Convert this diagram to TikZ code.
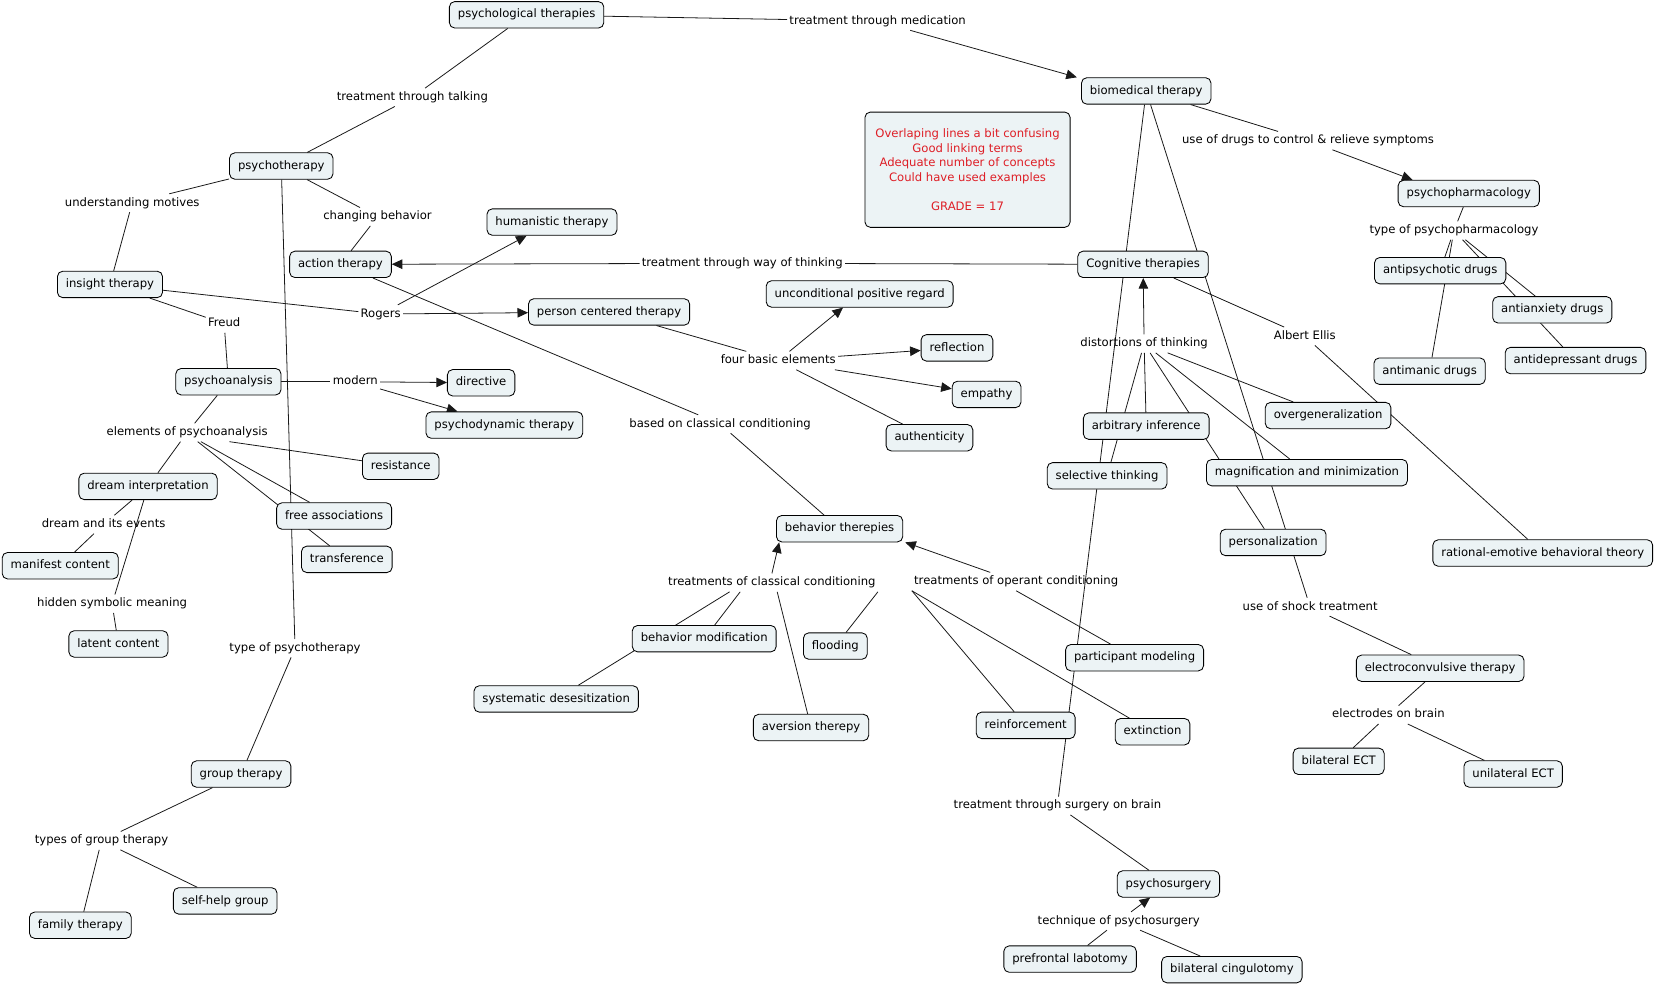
\documentclass[tikz,border=0pt]{standalone}
\usepackage{fontspec}
\setmainfont{DejaVu Sans}
\usetikzlibrary{arrows.meta,backgrounds}
\definecolor{cfill}{RGB}{236,243,245}
\definecolor{cred}{RGB}{222,30,38}
\newcommand\cmfont{\fontsize{11}{13.8}\selectfont}
\tikzset{
  concept/.style={draw=black, line width=0.8pt, fill=cfill, rounded corners=5pt,
    inner xsep=8pt, inner ysep=0pt, minimum height=25pt, font=\cmfont,
    text height=8.5pt, text depth=2.5pt},
  lbl/.style={inner xsep=2pt, inner ysep=3pt, font=\cmfont, text height=8.5pt, text depth=2.5pt},
  con/.style={draw=black!90, line width=0.75pt},
  arr/.style={con, -{Triangle[length=10pt,width=9pt]}},
  remark/.style={draw=black, line width=0.8pt, fill=cfill, rounded corners=5pt,
    minimum width=194pt, minimum height=109pt, align=center, text=cred, font=\cmfont}
}
\begin{document}
\begin{tikzpicture}[x=1pt,y=1pt]
\useasboundingbox (0,0) rectangle (1568,-934.4);
% concepts
\node[concept] (pt) at (498,-14) {psychological therapies};
\node[concept] (bio) at (1084,-86) {biomedical therapy};
\node[concept] (psy) at (266,-157) {psychotherapy};
\node[concept] (hum) at (522,-210) {humanistic therapy};
\node[concept] (act) at (322,-250) {action therapy};
\node[concept] (ins) at (104,-269) {insight therapy};
\node[concept] (cog) at (1081,-250) {Cognitive therapies};
\node[concept] (pph) at (1389,-183) {psychopharmacology};
\node[concept] (aps) at (1362,-256) {antipsychotic drugs};
\node[concept] (anx) at (1468,-293) {antianxiety drugs};
\node[concept] (adp) at (1490,-341) {antidepressant drugs};
\node[concept] (amn) at (1352,-351) {antimanic drugs};
\node[concept] (upr) at (813,-278) {unconditional positive regard};
\node[concept] (pct) at (576,-295) {person centered therapy};
\node[concept] (rfl) at (905,-329) {reflection};
\node[concept] (emp) at (933,-373) {empathy};
\node[concept] (aut) at (879,-414) {authenticity};
\node[concept] (pan) at (216,-361) {psychoanalysis};
\node[concept] (dir) at (455,-362) {directive};
\node[concept] (pdt) at (477,-402) {psychodynamic therapy};
\node[concept] (res) at (379,-441) {resistance};
\node[concept] (dri) at (140,-460) {dream interpretation};
\node[concept] (fas) at (316,-488) {free associations};
\node[concept] (trf) at (328,-529) {transference};
\node[concept] (mfc) at (57,-535) {manifest content};
\node[concept] (ltc) at (112,-609) {latent content};
\node[concept] (grp) at (228,-732) {group therapy};
\node[concept] (fam) at (76,-875) {family therapy};
\node[concept] (shg) at (213,-852) {self-help group};
\node[concept] (beh) at (794,-500) {behavior therepies};
\node[concept] (bmo) at (666,-604) {behavior modification};
\node[concept] (fld) at (790,-611) {flooding};
\node[concept] (sds) at (526,-661) {systematic desesitization};
\node[concept] (avt) at (767,-688) {aversion therepy};
\node[concept] (pmo) at (1073,-622) {participant modeling};
\node[concept] (rei) at (970,-686) {reinforcement};
\node[concept] (ext) at (1090,-692) {extinction};
\node[concept] (arb) at (1084,-403) {arbitrary inference};
\node[concept] (sel) at (1047,-450) {selective thinking};
\node[concept] (ovg) at (1256,-393) {overgeneralization};
\node[concept] (mag) at (1236,-447) {magnification and minimization};
\node[concept] (per) at (1204,-513) {personalization};
\node[concept] (reb) at (1459,-523) {rational-emotive behavioral theory};
\node[concept] (ect) at (1362,-632) {electroconvulsive therapy};
\node[concept] (bect) at (1266,-720) {bilateral ECT};
\node[concept] (uect) at (1431,-732) {unilateral ECT};
\node[concept] (psg) at (1105,-836) {psychosurgery};
\node[concept] (pfl) at (1012,-907) {prefrontal labotomy};
\node[concept] (bcg) at (1165,-917) {bilateral cingulotomy};
\node[remark] (cmt) at (915,-160.5) {Overlaping lines a bit confusing\\Good linking terms\\Adequate number of concepts\\Could have used examples\\[13.8pt]GRADE = 17};
% linking phrases
\node[lbl] (l1) at (830,-20) {treatment through medication};
\node[lbl] (l2) at (390,-92) {treatment through talking};
\node[lbl] (l3) at (125,-192) {understanding motives};
\node[lbl] (l4) at (357,-205) {changing behavior};
\node[lbl] (l5) at (702,-249) {treatment through way of thinking};
\node[lbl] (l6) at (1237,-133) {use of drugs to control \& relieve symptoms};
\node[lbl] (l7) at (1375,-218) {type of psychopharmacology};
\node[lbl] (l8) at (360,-297) {Rogers};
\node[lbl] (l9) at (212,-306) {Freud};
\node[lbl] (l10) at (736,-341) {four basic elements};
\node[lbl] (l11) at (1082,-325) {distortions of thinking};
\node[lbl] (l12) at (1234,-318) {Albert Ellis};
\node[lbl] (l13) at (336,-361) {modern};
\node[lbl] (l14) at (177,-409) {elements of psychoanalysis};
\node[lbl] (l15) at (681,-401) {based on classical conditioning};
\node[lbl] (l16) at (98,-496) {dream and its events};
\node[lbl] (l17) at (106,-571) {hidden symbolic meaning};
\node[lbl] (l18) at (279,-613) {type of psychotherapy};
\node[lbl] (l19) at (730,-551) {treatments of classical conditioning};
\node[lbl] (l20) at (961,-550) {treatments of operant conditioning};
\node[lbl] (l21) at (1239,-574) {use of shock treatment};
\node[lbl] (l22) at (1313,-676) {electrodes on brain};
\node[lbl] (l23) at (1000,-762) {treatment through surgery on brain};
\node[lbl] (l24) at (96,-795) {types of group therapy};
\node[lbl] (l25) at (1058,-871) {technique of psychosurgery};
% connectors
\begin{pgfonlayer}{background}
\fill[white] (0,0) rectangle (1568,-934.4);
\draw[con] (pt) -- (l1);
\draw[arr] (l1) -- ([xshift=-4pt]bio.north west);
\draw[con] (pt) -- (l2);
\draw[con] (l2) -- (psy);
\draw[con] (psy) -- (l3);
\draw[con] (l3) -- (ins);
\draw[con] (psy) -- (l4);
\draw[con] (l4) -- (act);
\draw[con] (psy) -- (l18);
\draw[con] (l18) -- (grp);
\draw[con] (grp) -- (l24);
\draw[con] (l24) -- (fam);
\draw[con] (l24) -- (shg);
\draw[con] (cog) -- (l5);
\draw[arr] (l5) -- (act);
\draw[con] (ins) -- (l8);
\draw[arr] (l8) -- (hum);
\draw[arr] (l8) -- (pct);
\draw[con] (ins) -- (l9);
\draw[con] (l9) -- (pan);
\draw[con] (act) -- (l15);
\draw[con] (l15) -- (beh);
\draw[con] (pct) -- (l10);
\draw[arr] (l10) -- (upr);
\draw[arr] (l10) -- (rfl);
\draw[arr] (l10) -- (emp);
\draw[con] (l10) -- (aut);
\draw[con] (pan) -- (l13);
\draw[arr] (l13) -- (dir);
\draw[arr] (l13) -- (pdt);
\draw[con] (pan) -- (l14);
\draw[con] (l14) -- (dri);
\draw[con] ([xshift=40pt]l14.south) -- (res);
\draw[con] ([xshift=13pt]l14.south) -- (fas);
\draw[con] ([xshift=10pt]l14.south) -- (trf);
\draw[con] (dri) -- (l16);
\draw[con] (l16) -- (mfc);
\draw[con] (dri) -- (l17);
\draw[con] (l17) -- (ltc);
\draw[arr] (l19.north) -- ([xshift=3pt]beh.south west);
\draw[con] ([xshift=-30pt]l19.south) -- (bmo);
\draw[con] ([xshift=-40pt]l19.south) -- (sds);
\draw[con] (l19.south east) -- (fld);
\draw[con] ([xshift=5pt]l19.south) -- (avt);
\draw[arr] (l20) -- ([xshift=2pt]beh.south east);
\draw[con] (l20.south west) -- (rei);
\draw[con] (l20.south west) -- (ext);
\draw[con] (l20.south) -- (pmo);
\draw[arr] (l11) -- (cog);
\draw[con] (l11) -- (arb);
\draw[con] (l11) -- (sel);
\draw[con] (l11) -- (ovg);
\draw[con] (l11) -- (mag);
\draw[con] (l11) -- (per);
\draw[con] (cog) -- (l12);
\draw[con] (l12) -- (reb);
\draw[con] (bio) -- (l6);
\draw[arr] (l6) -- ([xshift=14pt]pph.north west);
\draw[con] (pph) -- (l7);
\draw[con] (l7) -- (aps);
\draw[con] (l7) -- (anx);
\draw[con] (l7) -- (adp);
\draw[con] (l7) -- (amn);
\draw[con] (bio) -- (l21);
\draw[con] (l21) -- (ect);
\draw[con] (ect) -- (l22);
\draw[con] (l22) -- (bect);
\draw[con] (l22) -- (uect);
\draw[con] (bio) -- (l23);
\draw[con] (l23) -- (psg);
\draw[arr] (l25) -- (psg);
\draw[con] (l25) -- (pfl);
\draw[con] (l25) -- (bcg);
\end{pgfonlayer}
\end{tikzpicture}
\end{document}
